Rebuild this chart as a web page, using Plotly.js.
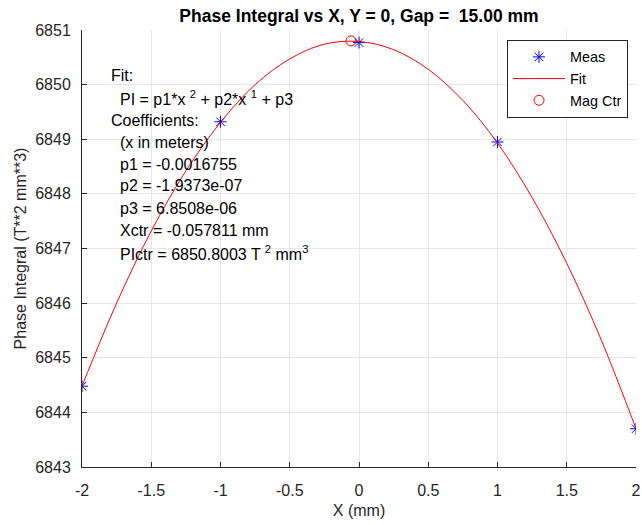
<!DOCTYPE html>
<html><head><meta charset="utf-8">
<script src="https://cdn.plot.ly/plotly-3.0.1.min.js"></script>
<style>body{margin:0;padding:0;background:#fff}#plot{width:642px;height:525px}</style>
</head><body><div id="plot"></div>
<script>
// Measured points
var measX = [-2, -1, 0, 1, 2];
var measY = [6844.48, 6849.32, 6850.77, 6848.95, 6843.70];
// Fit curve
var fitX = [-2, -1.75, -1.5, -1.25, -1, -0.75, -0.5, -0.25, 0, 0.25, 0.5, 0.75, 1, 1.25, 1.5, 1.75, 2];
var fitY = [6844.48, 6846.00, 6847.32, 6848.42, 6849.31, 6850.00, 6850.47, 6850.74, 6850.79, 6850.64, 6850.28, 6849.71, 6848.93, 6847.93, 6846.73, 6845.32, 6843.70];
// Magnetic center
var ctrX = [-0.057811];
var ctrY = [6850.8003];
var xTicks = [-2, -1.5, -1, -0.5, 0, 0.5, 1, 1.5, 2];
var xTickText = ['-2', '-1.5', '-1', '-0.5', '0', '0.5', '1', '1.5', '2'];
var yTicks = [6843, 6844, 6845, 6846, 6847, 6848, 6849, 6850, 6851];
var fitLines = [
  'Fit:',
  'PI = p1*x <sup>2</sup> + p2*x <sup>1</sup> + p3',
  'Coefficients:',
  '(x in meters)',
  'p1 = -0.0016755',
  'p2 = -1.9373e-07',
  'p3 = 6.8508e-06',
  'Xctr = -0.057811 mm',
  'PIctr = 6850.8003 T <sup>2</sup> mm<sup>3</sup>'
];

var FONT = 'Arial, "Liberation Sans", Helvetica, sans-serif';
var traces = [
  {x: measX, y: measY, mode: 'markers', type: 'scatter', name: 'Meas',
   marker: {symbol: 'asterisk-open', size: 10, color: '#0000ff', line: {color: '#0000ff', width: 1}}},
  {x: fitX, y: fitY, mode: 'lines', type: 'scatter', name: 'Fit',
   line: {color: '#ff0000', width: 1, shape: 'spline'}},
  {x: ctrX, y: ctrY, mode: 'markers', type: 'scatter', name: 'Mag Ctr',
   marker: {symbol: 'circle-open', size: 10, color: '#ff0000', line: {color: '#ff0000', width: 1}}}
];

var L = 82, R = 6, T = 30, B = 58, H = 525;
var plotH = H - T - B, plotW = 642 - L - R;
var lineYs = [75, 98, 120, 142, 164, 186, 208, 230, 253];
var lineXs = [109, 118, 109, 118, 118, 118, 118, 118, 118];
var annotations = fitLines.map(function(t, i) {
  return {text: t, xref: 'paper', yref: 'paper',
    x: (lineXs[i] - L) / plotW, y: (H - B - lineYs[i]) / plotH,
    xanchor: 'left', yanchor: 'middle', showarrow: false, align: 'left',
    font: {family: FONT, size: 16, color: '#000'}};
});

var layout = {
  width: 642, height: 525,
  margin: {l: L, r: R, t: T, b: B},
  paper_bgcolor: '#fff', plot_bgcolor: '#fff',
  font: {family: FONT, size: 16, color: '#262626'},
  title: {text: '<b>Phase Integral vs X, Y = 0, Gap =  15.00 mm</b>', x: (L + plotW / 2) / 642, xref: 'container', xanchor: 'center',
    y: 1 - 16 / 525, yanchor: 'middle', font: {family: FONT, size: 17.5, color: '#000'}},
  xaxis: {range: [-2, 2], tickvals: xTicks, ticktext: xTickText, showgrid: true, gridcolor: '#e6e6e6',
    zeroline: false, showline: true, linecolor: '#262626', linewidth: 1, ticks: 'inside', ticklen: 5,
    tickcolor: '#262626', mirror: false, tickfont: {family: FONT, size: 16, color: '#262626'},
    ticklabelstandoff: 9,
    title: {text: 'X (mm)', font: {family: FONT, size: 16, color: '#262626'}, standoff: 6}},
  yaxis: {range: [6843, 6851], tickvals: yTicks, showgrid: true, gridcolor: '#e6e6e6',
    zeroline: false, showline: true, linecolor: '#262626', linewidth: 1, ticks: 'inside', ticklen: 5,
    tickcolor: '#262626', mirror: false, tickfont: {family: FONT, size: 16, color: '#262626'},
    ticklabelstandoff: 7,
    title: {text: 'Phase Integral (T**2 mm**3)', font: {family: FONT, size: 16, color: '#262626'}, standoff: 4}},
  legend: {x: (628 - L) / plotW, y: (H - B - 40) / plotH, xanchor: 'right', yanchor: 'top', bgcolor: '#fff',
    bordercolor: '#262626', borderwidth: 1, font: {family: FONT, size: 14.4, color: '#000'},
    tracegroupgap: 0, itemwidth: 52},
  annotations: annotations,
  showlegend: true
};
Plotly.newPlot('plot', traces, layout, {staticPlot: true, displayModeBar: false});
</script></body></html>
